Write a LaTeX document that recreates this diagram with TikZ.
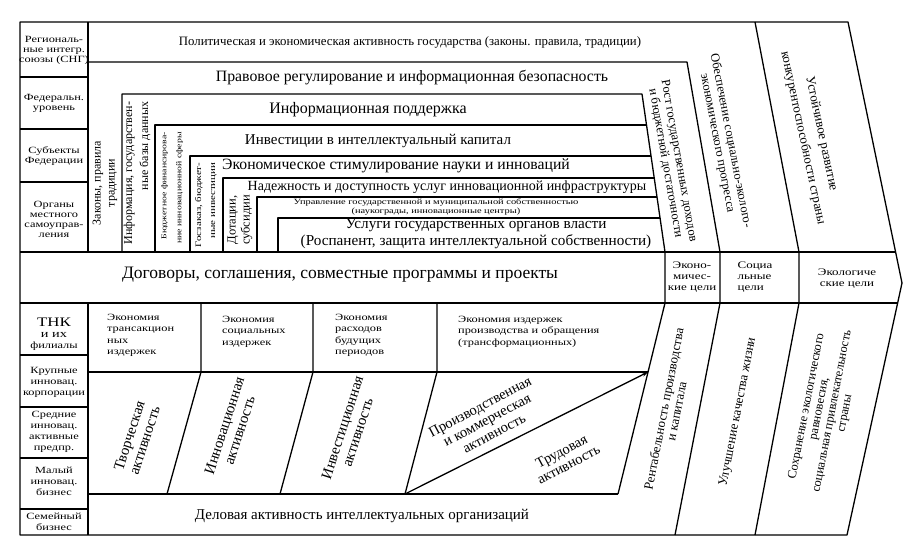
\documentclass[tikz,border=0pt]{standalone}
\usepackage{fontspec}
\setmainfont{Liberation Serif}
\newfontfamily\wideserif{Liberation Serif}[FakeStretch=1.3]
\usetikzlibrary{arrows.meta}
\newcommand{\fsz}[2]{\fontsize{#1}{#2}\selectfont}

\begin{document}
\begin{tikzpicture}[x=1pt, y=-1pt,
  ln/.style={line width=1.3pt, line join=round},
  lab/.style={font=\wideserif\fsz{9.5}{10}, align=center, inner sep=0pt},
  lablo/.style={font=\wideserif\fsz{9.5}{11}, align=center, inner sep=0pt},
  cell/.style={font=\wideserif\fsz{9.5}{11.5}, align=left, anchor=north west, inner sep=0pt},
  goal/.style={font=\wideserif\fsz{10}{11}, align=center, inner sep=0pt},
  txt/.style={inner sep=0pt, align=center}]
  \useasboundingbox (0,0) rectangle (912,551);
  % frame and left column
  \draw[ln] (20,22) -- (848,22) -- (902,283) -- (847,535) -- (20,535) -- cycle;
  \draw[ln] (88,22) -- (88,252);
  \draw[ln] (88,303) -- (88,535);
  \foreach \y in {77,129,182,355,407,458,509}
    \draw[ln] (20,\y) -- (88,\y);
  \draw[ln] (20,252) -- (896,252);
  \draw[ln] (20,303) -- (898,303);
  % upper block: nested boxes
  \draw[ln] (88,62) -- (687,62) -- (720,252) -- (720,303) -- (675,535);
  \draw[ln] (755,22) -- (799,252) -- (799,303) -- (755,535);
  \draw[ln] (122,252) -- (122,94) -- (642,94) -- (665,252) -- (665,303) -- (618,494);
  \foreach \x/\y/\r in {155/125/646.5, 190/156/651, 223/178/654.2, 257/197/657, 278/218/660.1}
    \draw[ln] (\x,252) -- (\x,\y) -- (\r,\y);
  % lower block
  \draw[ln] (88,372) -- (648,372);
  \draw[ln] (88,494) -- (618,494);
  \foreach \xa/\xb in {201/167, 313/280, 437/405}
    \draw[ln] (\xa,303) -- (\xa,372) -- (\xb,494);
  \draw[ln, -{Stealth[length=6pt, width=4pt]}] (405,494) -- (648,372);

  % left column
  \node[lab] (reg) at (54,50) {Региональ-\\ные интегр.\\союзы (СНГ)};
  \node[lab] (fed) at (54,103) {Федеральн.\\уровень};
  \node[lab] (subj) at (54,156) {Субъекты\\Федерации};
  \node[lab] (mest) at (54,219) {Органы\\местного\\самоуправ-\\ления};
  \node[lablo] (tnk) at (54,334) {\fsz{13}{13}ТНК\\\fsz{11}{12}и их\\филиалы};
  \node[lablo] (krup) at (54,382) {Крупные\\инновац.\\корпорации};
  \node[lablo] (sred) at (54,432) {Средние\\инновац.\\активные\\предпр.};
  \node[lablo] (mal) at (54,481) {Малый\\инновац.\\бизнес};
  \node[lablo] (sem) at (54,522) {Семейный\\бизнес};

  % horizontal headings
  \node[txt, font=\fsz{12.8}{14}] (pol) at (410,42) {Политическая и экономическая активность государства (законы. правила, традиции)};
  \node[txt, font=\fsz{15.8}{17}] (prav) at (412,78) {Правовое регулирование и информационная безопасность};
  \node[txt, font=\fsz{16}{18}] (info) at (368,110) {Информационная поддержка};
  \node[txt, font=\fsz{15}{17}] (invest) at (378,141) {Инвестиции в интеллектуальный капитал};
  \node[txt, font=\fsz{15.7}{17}] (stim) at (396,166) {Экономическое стимулирование науки и инноваций};
  \node[txt, font=\fsz{14}{16}] (nadez) at (447,187) {Надежность и доступность услуг инновационной инфраструктуры};
  \node[txt, font=\wideserif\fsz{8}{8.6}] (uprav) at (436,207) {Управление государственной и муниципальной собственностью\\(наукограды, инновационные центры)};
  \node[txt, font=\fsz{15.2}{17}] (usl) at (476,234) {Услуги государственных органов власти\\(Роспанент, защита интеллектуальной собственности)};

  % vertical strips
  \node[txt, rotate=90, font=\fsz{12}{14}] (zak) at (105,183) {Законы, правила\\традиции};
  \node[txt, rotate=90, align=right, font=\fsz{12}{16}] (infb) at (137,173) {Информация, государствен-\\ные базы данных};
  \node[txt, rotate=90, align=right, font=\wideserif\fsz{7.5}{15}] (budg) at (172,188) {Бюджетное финансирова-\\ние инновационной сферы};
  \node[txt, rotate=90, align=right, font=\wideserif\fsz{8.4}{14}] (gosz) at (206,205) {Госзаказ, бюджет-\\ные инвестиции};
  \node[txt, rotate=90, font=\fsz{12.5}{14}] (dot) at (240,220) {Дотации,\\субсидии};
  \node[txt, rotate=-80, font=\fsz{12.5}{13.5}] (rost) at (672,162) {Рост государственных доходов\\и бюджетной достаточности};
  \node[txt, rotate=-79, font=\fsz{12.5}{13.5}] (obesp) at (724,142) {Обеспечение социально-эколого-\\экономического прогресса};
  \node[txt, rotate=-78, font=\fsz{13}{19}] (ustoi) at (812,136) {Устойчивое развитие\\конкурентоспособности страны};

  % agreements and goals
  \node[txt, font=\fsz{17.5}{19}] (dog) at (340,275) {Договоры, соглашения, совместные программы и проекты};
  \node[goal] (econg) at (692,277) {Эконо-\\мичес-\\кие цели};
  \node[goal, align=left] (socg) at (755,277) {Социа\\льные\\цели};
  \node[goal] (ecolg) at (847,279) {Экологиче\\ские цели};

  % lower block texts
  \node[cell] (ek1) at (107,314) {Экономия\\трансакцион\\ных\\издержек};
  \node[cell] (ek2) at (222,316) {Экономия\\социальных\\издержек};
  \node[cell] (ek3) at (335,314) {Экономия\\расходов\\будущих\\периодов};
  \node[cell] (ek4) at (458,316) {Экономия издержек\\производства и обращения\\(трансформационных)};
  \node[txt, rotate=72, font=\fsz{15}{16}] (tvor) at (137,438) {Творческая\\активность};
  \node[txt, rotate=72, font=\fsz{15}{16}] (innov) at (232,428) {Инновационная\\активность};
  \node[txt, rotate=72, font=\fsz{15}{16}] (inv) at (350,430) {Инвестиционная\\активность};
  \node[txt, rotate=28, font=\fsz{14.5}{15}] (proizv) at (487,420) {Производственная\\и коммерческая\\активность};
  \node[txt, rotate=28, font=\fsz{14.5}{15}] (trud) at (565,458) {Трудовая\\активность};
  \node[txt, rotate=79, font=\fsz{13}{13}] (rent) at (670,410) {Рентабельность производства\\и капитала};
  \node[txt, rotate=79, font=\fsz{13}{14}] (kach) at (738,412) {Улучшение качества жизни};
  \node[txt, rotate=79, font=\fsz{12.5}{13}] (sohr) at (826,410) {Сохранение экологического\\равновесия,\\социальная привлекательность\\страны};
  \node[txt, font=\fsz{15}{17}] (delo) at (362,516) {Деловая активность интеллектуальных организаций};
\end{tikzpicture}
\end{document}
